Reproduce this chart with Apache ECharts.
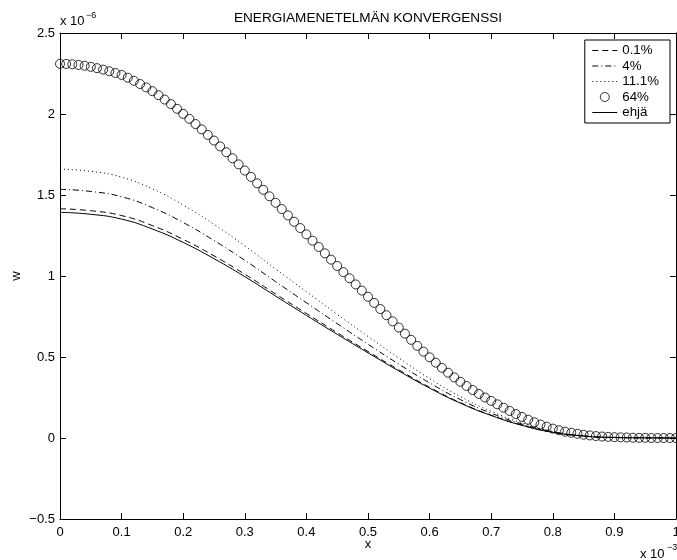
<!DOCTYPE html>
<html>
<head>
<meta charset="utf-8">
<script src="https://cdn.jsdelivr.net/npm/echarts@6/dist/echarts.min.js"></script>
<style>
html,body{margin:0;padding:0;background:#fff;overflow:hidden;}
#chart{width:677px;height:560px;}
</style>
</head>
<body>
<div id="chart"></div>
<script>
// ---- data (w in units of 1e-6, x in units of 1e-3) ----
const titleText = 'ENERGIAMENETELMÄN KONVERGENSSI';
const seriesNames = ['0.1%', '4%', '11.1%', '64%', 'ehjä'];
const yTicks = [-0.5, 0, 0.5, 1, 1.5, 2, 2.5];
const xTicks = [0, 0.1, 0.2, 0.3, 0.4, 0.5, 0.6, 0.7, 0.8, 0.9, 1];

const lineX = [0,0.05,0.1,0.15,0.2,0.25,0.3,0.35,0.4,0.45,0.5,0.55,0.6,0.65,0.7,0.75,0.8,0.85,0.9,0.95,1];
const w01 = [1.415,1.403,1.373,1.311,1.226,1.124,1.011,0.889,0.769,0.650,0.534,0.421,0.313,0.218,0.141,0.080,0.036,0.012,0.003,0.001,0];
const w4 = [1.535,1.522,1.489,1.422,1.330,1.219,1.097,0.965,0.835,0.706,0.579,0.456,0.340,0.237,0.153,0.086,0.039,0.013,0.003,0.001,0];
const w111 = [1.660,1.646,1.610,1.538,1.438,1.319,1.186,1.043,0.903,0.763,0.627,0.494,0.367,0.256,0.165,0.093,0.042,0.014,0.004,0.001,0];
const wIntact = [1.393,1.381,1.351,1.290,1.207,1.107,0.996,0.876,0.757,0.640,0.526,0.414,0.308,0.215,0.139,0.078,0.035,0.012,0.003,0.001,0];

const circleStep = 0.01;
const w64 = [
2.310,2.309,2.307,2.303,2.298,2.291,2.283,2.274,2.264,2.253,
2.241,2.224,2.205,2.185,2.164,2.141,2.116,2.089,2.061,2.032,
2.001,1.970,1.938,1.905,1.871,1.836,1.800,1.764,1.727,1.689,
1.651,1.612,1.572,1.532,1.492,1.452,1.413,1.374,1.335,1.296,
1.257,1.218,1.179,1.140,1.101,1.062,1.024,0.986,0.948,0.910,
0.872,0.834,0.796,0.758,0.720,0.682,0.644,0.606,0.569,0.533,
0.498,0.465,0.433,0.403,0.374,0.347,0.321,0.296,0.272,0.250,
0.229,0.208,0.187,0.167,0.148,0.130,0.113,0.097,0.083,0.070,
0.058,0.048,0.039,0.032,0.026,0.020,0.016,0.012,0.009,0.007,
0.005,0.004,0.003,0.002,0.001,0.001,0,0,0,0,
0];

// ---- chart ----
const FONT = 'Liberation Sans, Arial, Helvetica, sans-serif';
const pairs = (xs, ys) => ys.map((v, i) => [xs[i], v]);
const circlePairs = w64.map((v, i) => [+(i * circleStep).toFixed(2), v]);

const yFmt = v => (v < 0 ? '\u2212' : '') + String(Math.abs(+v.toFixed(2)));
const xFmt = v => String(+v.toFixed(2));

const axisCommon = () => ({
  axisLine: {show: true, onZero: false, lineStyle: {color: '#000', width: 1}},
  axisTick: {show: true, inside: true, length: 6, lineStyle: {color: '#000', width: 1}},
  splitLine: {show: false}
});

const hideSym = {opacity: 0};
const chart = echarts.init(document.getElementById('chart'), null, {renderer: 'canvas'});
chart.setOption({
  animation: false,
  backgroundColor: '#fff',
  textStyle: {fontFamily: FONT},
  grid: {left: 60, right: 1, top: 33, bottom: 41, containLabel: false, outerBoundsMode: 'none'},
  xAxis: [
    Object.assign({
      type: 'value', position: 'bottom', min: 0, max: 1, interval: 0.1,
      name: 'x', nameLocation: 'middle', nameGap: 19, nameMoveOverlap: false,
      nameTextStyle: {color: '#000', fontSize: 13, fontFamily: FONT},
      axisLabel: {color: '#000', fontSize: 13, fontFamily: FONT, margin: 7, formatter: xFmt}
    }, axisCommon()),
    Object.assign({
      type: 'value', position: 'top', min: 0, max: 1, interval: 0.1,
      axisLabel: {show: false}
    }, axisCommon())
  ],
  yAxis: [
    Object.assign({
      type: 'value', position: 'left', min: -0.5, max: 2.5, interval: 0.5,
      name: 'w', nameLocation: 'middle', nameGap: 37, nameMoveOverlap: false,
      nameTextStyle: {color: '#000', fontSize: 13, fontFamily: FONT},
      axisLabel: {color: '#000', fontSize: 13, fontFamily: FONT, margin: 5, formatter: yFmt}
    }, axisCommon()),
    Object.assign({
      type: 'value', position: 'right', min: -0.5, max: 2.5, interval: 0.5,
      axisLabel: {show: false}
    }, axisCommon())
  ],
  legend: {
    orient: 'vertical', right: 7, top: 40,
    backgroundColor: '#fff', borderColor: '#000', borderWidth: 1,
    padding: [4, 11, 4, 7], itemGap: 2.5, itemWidth: 25, itemHeight: 9,
    lineStyle: {width: 1},
    textStyle: {color: '#000', fontSize: 13.3, fontFamily: FONT},
    data: [
      {name: seriesNames[0], itemStyle: hideSym},
      {name: seriesNames[1], itemStyle: hideSym},
      {name: seriesNames[2], itemStyle: hideSym},
      {name: seriesNames[3], itemStyle: {color: 'rgba(0,0,0,0)', borderColor: '#000', borderWidth: 1}},
      {name: seriesNames[4], itemStyle: hideSym}
    ]
  },
  series: [
    {name: seriesNames[0], type: 'line', data: pairs(lineX, w01), symbol: 'none', smooth: true,
     lineStyle: {color: '#000', width: 1, type: [6, 4]}, itemStyle: {color: '#000'}, z: 3},
    {name: seriesNames[1], type: 'line', data: pairs(lineX, w4), symbol: 'none', smooth: true,
     lineStyle: {color: '#000', width: 1, type: [6, 3, 1, 3]}, itemStyle: {color: '#000'}, z: 3},
    {name: seriesNames[2], type: 'line', data: pairs(lineX, w111), symbol: 'none', smooth: true,
     lineStyle: {color: '#000', width: 1, type: [1, 3]}, itemStyle: {color: '#000'}, z: 3},
    {name: seriesNames[3], type: 'scatter', data: circlePairs, symbol: 'circle', symbolSize: 9,
     itemStyle: {color: 'rgba(0,0,0,0)', borderColor: '#000', borderWidth: 1}, z: 4},
    {name: seriesNames[4], type: 'line', data: pairs(lineX, wIntact), symbol: 'none', smooth: true,
     lineStyle: {color: '#000', width: 1, type: 'solid'}, itemStyle: {color: '#000'}, z: 3}
  ],
  graphic: [
    {type: 'text', x: 368, y: 11, style: {text: titleText, textAlign: 'center', fill: '#000', font: '13.6px ' + FONT}},
    {type: 'text', left: 60, top: 15, style: {text: 'x 10', fill: '#000', font: '13px ' + FONT}},
    {type: 'text', left: 86, top: 11, style: {text: '\u22126', fill: '#000', font: '9px ' + FONT}},
    {type: 'text', left: 640, top: 548, style: {text: 'x 10', fill: '#000', font: '13px ' + FONT}},
    {type: 'text', left: 667, top: 543, style: {text: '\u22123', fill: '#000', font: '9px ' + FONT}}
  ]
});
</script>
</body>
</html>
